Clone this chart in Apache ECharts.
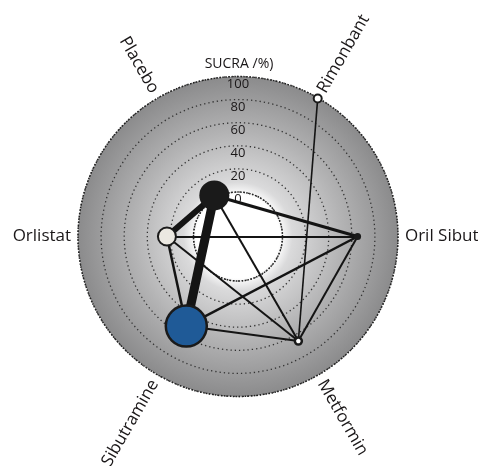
<!DOCTYPE html>
<html>
<head>
<meta charset="utf-8">
<script src="https://cdn.jsdelivr.net/npm/echarts@6/dist/echarts.min.js"></script>
<style>
  html, body { margin: 0; padding: 0; background: #fff; }
  #chart { width: 478px; height: 466px; }
</style>
</head>
<body>
<div id="chart"></div>
<script>
// Treatments, in angular order starting from the upper-left spoke and going counter-clockwise
const treatments = ['Placebo', 'Orlistat', 'Sibutramine', 'Metformin', 'Oril Sibut', 'Rimonbant'];
// SUCRA (%) per treatment
const sucra = [2.5, 23, 51, 66, 65, 99.5];
// Node sizes (px diameter) reflect the number of participants per treatment
const nodeSize = [30, 18, 41, 7, 7, 8];
// Direct comparisons: [from, to, line width]
const comparisons = [
  ['Placebo', 'Sibutramine', 9],
  ['Placebo', 'Orlistat', 6],
  ['Placebo', 'Oril Sibut', 3],
  ['Placebo', 'Metformin', 2],
  ['Orlistat', 'Sibutramine', 2.5],
  ['Orlistat', 'Oril Sibut', 2],
  ['Orlistat', 'Metformin', 2],
  ['Sibutramine', 'Oril Sibut', 2.5],
  ['Sibutramine', 'Metformin', 2],
  ['Oril Sibut', 'Metformin', 2],
  ['Rimonbant', 'Metformin', 1.6]
];
// Radial tick values
const ticks = [0, 20, 40, 60, 80, 100];

const nodeStyles = {
  'Placebo': { color: '#1a1a1a', borderColor: '#1a1a1a', borderWidth: 0 },
  'Orlistat': { color: '#ebe8e1', borderColor: '#1a1a1a', borderWidth: 2 },
  'Sibutramine': { color: '#1f5a97', borderColor: '#1a1a1a', borderWidth: 2.5 },
  'Metformin': { color: '#ffffff', borderColor: '#1a1a1a', borderWidth: 2.5 },
  'Oril Sibut': { color: '#1a1a1a', borderColor: '#1a1a1a', borderWidth: 0 },
  'Rimonbant': { color: '#ffffff', borderColor: '#1a1a1a', borderWidth: 2 }
};

const FONT = 'Open Sans';
const TEXT = '#1a1718';
const CENTER = [238, 236.5];
const R_IN = 44.5, R_OUT = 160;
const LABEL_R = 106; // radius value (beyond 100) where treatment names start

const nodes = treatments.map((name, i) => ({
  name: name,
  value: [sucra[i], i],
  symbolSize: nodeSize[i],
  itemStyle: nodeStyles[name]
}));

const links = comparisons.map(([s, t, w]) => ({
  source: s, target: t, lineStyle: { width: w }
}));

// Radial names around the rim
const nameLabels = treatments.map((name, i) => {
  const ang = (90 + 30 + 60 * i) % 360;
  const rightSide = Math.cos(ang * Math.PI / 180) > 0.01;
  const rot = rightSide ? (ang > 180 ? ang - 360 : ang) : ang - 180;
  return {
    name: name,
    value: [LABEL_R, i],
    label: {
      show: true, formatter: name, position: 'inside',
      rotate: rot, align: rightSide ? 'left' : 'right', verticalAlign: 'middle',
      color: TEXT, opacity: 1, textBorderWidth: 0, fontFamily: FONT, fontSize: 17
    }
  };
});

const chart = echarts.init(document.getElementById('chart'), null, { renderer: 'canvas' });
chart.setOption({
  animation: false,
  backgroundColor: '#ffffff',
  title: {
    text: 'SUCRA /%)', left: 'center', top: 52,
    textStyle: { fontFamily: FONT, fontSize: 14, fontWeight: 'normal', color: TEXT }
  },
  polar: { center: CENTER, radius: [R_IN, R_OUT] },
  angleAxis: {
    type: 'category', data: treatments, startAngle: 90, clockwise: false, boundaryGap: true,
    z: 1,
    axisLine: { show: true, lineStyle: { color: '#222', width: 1.5, type: [1.5, 1.5] } },
    axisTick: { show: false }, axisLabel: { show: false }, splitLine: { show: false }
  },
  radiusAxis: {
    type: 'value', min: 0, max: 100, interval: 20, z: 1,
    axisLine: { show: false }, axisTick: { show: false },
    axisLabel: {
      show: true, margin: 0, align: 'center', verticalAlign: 'top',
      fontFamily: FONT, fontSize: 13, color: TEXT, padding: [1, 0, 0, 0]
    },
    splitLine: { show: true, lineStyle: { color: '#333', width: 1.3, type: [1.3, 3] } }
  },
  series: [
    {
      type: 'pie', silent: true, z: 0, center: CENTER, radius: [0, R_OUT],
      label: { show: false }, labelLine: { show: false },
      data: [{
        value: 1,
        itemStyle: {
          color: new echarts.graphic.RadialGradient(0.5, 0.5, 0.5, [
            { offset: 0, color: '#ffffff' },
            { offset: 0.26, color: '#ffffff' },
            { offset: 0.34, color: '#dadadb' },
            { offset: 0.65, color: '#b3b3b4' },
            { offset: 1, color: '#8b8b8c' }
          ])
        }
      }]
    },
    {
      type: 'graph', coordinateSystem: 'polar', layout: 'none', z: 3, silent: true,
      data: nodes, links: links,
      label: { show: false },
      lineStyle: { color: '#141414', opacity: 1, curveness: 0 },
      emphasis: { disabled: true }
    },
    {
      type: 'scatter', coordinateSystem: 'polar', z: 4, silent: true, clip: false,
      symbolSize: 1, itemStyle: { color: 'rgba(0,0,0,0)' },
      data: nameLabels,
      label: { show: true, fontFamily: FONT, fontSize: 17, color: TEXT, opacity: 1, textBorderWidth: 0 },
      labelLayout: { hideOverlap: false }
    }
  ]
});
</script>
</body>
</html>
